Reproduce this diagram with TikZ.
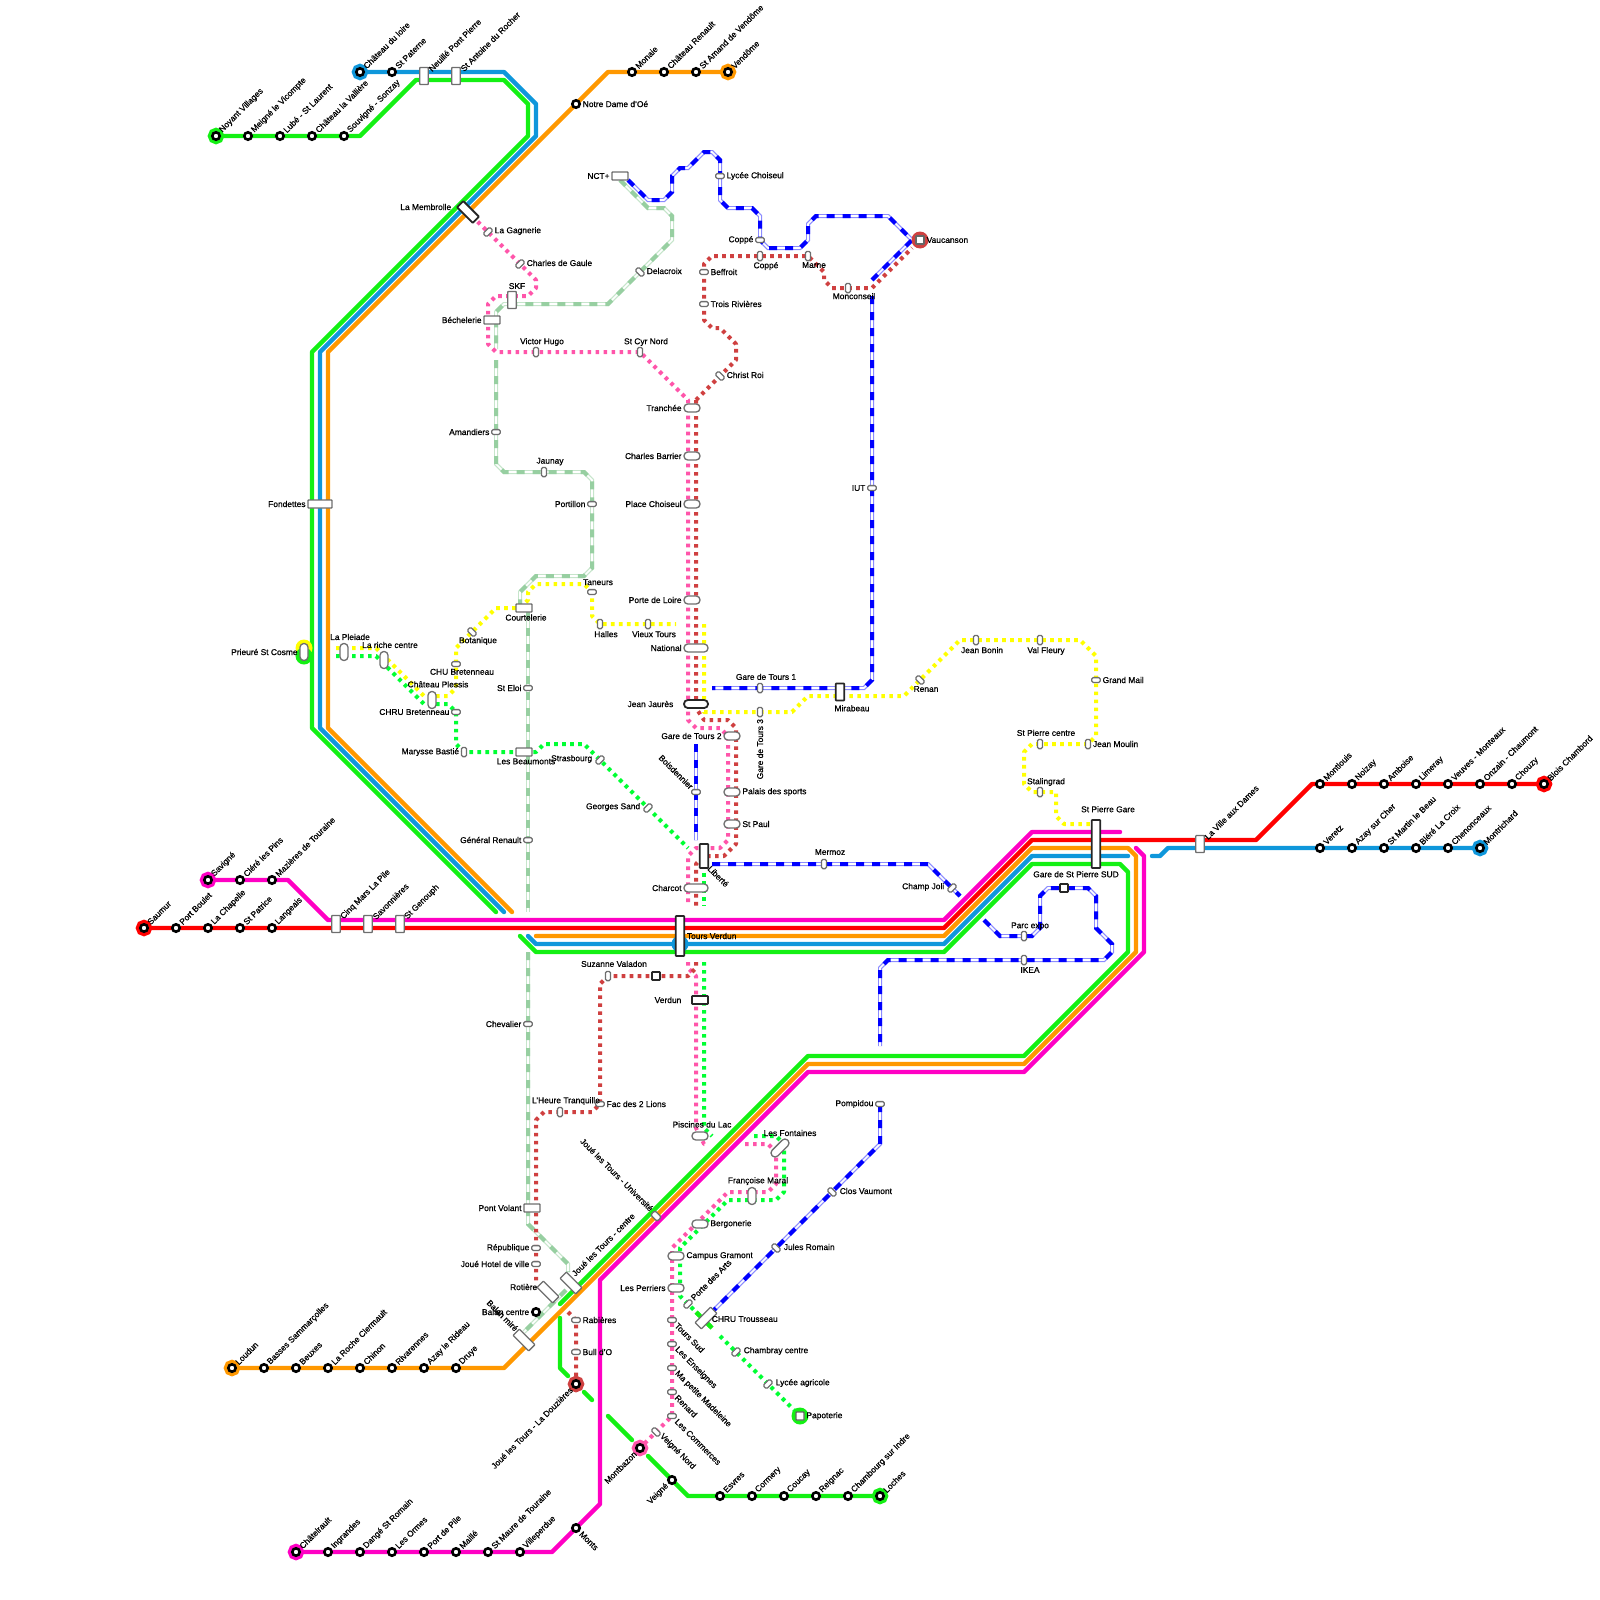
\documentclass[tikz,border=0pt]{standalone}
\usepackage{fontspec}
\setmainfont[FakeBold=0.7]{Liberation Sans}
\usetikzlibrary{positioning}
\definecolor{linegreen}{RGB}{20,240,20}
\definecolor{lineblue}{RGB}{15,151,219}
\definecolor{lineorange}{RGB}{255,152,0}
\definecolor{linered}{RGB}{255,0,0}
\definecolor{linemagenta}{RGB}{255,0,196}
\definecolor{trampink}{RGB}{255,85,170}
\definecolor{tramred}{RGB}{207,64,64}
\definecolor{tramyellow}{RGB}{255,255,0}
\definecolor{tramgreen}{RGB}{0,255,51}
\definecolor{metrosage}{RGB}{151,207,161}
\definecolor{metroblue}{RGB}{0,0,255}
\definecolor{stgray}{RGB}{110,110,110}
\begin{document}
\begin{tikzpicture}[
    x=0.5pt, y=-0.5pt,
    font=\fontsize{4.2pt}{5pt}\selectfont,
    rail/.style={line width=2.2pt, line cap=round, line join=round},
    tramdot/.style={line width=2pt, line join=round, dash pattern=on 1.8pt off 2.2pt},
    metrosagel/.style={draw=white, line width=0.8pt, preaction={draw=metrosage!55, line width=2pt}, postaction={draw=metrosage, line width=2pt, dash pattern=on 4pt off 4pt}},
    metrobluel/.style={draw=white, line width=0.8pt, preaction={draw=metroblue!45, line width=2pt}, postaction={draw=metroblue, line width=2pt, dash pattern=on 4pt off 4pt}},
    stopring/.style={circle, draw=black, fill=white, line width=1.3pt, minimum size=3.7pt, inner sep=0pt},
    terminal/.style={stopring, preaction={draw=#1, line width=4.4pt}},
    halo/.style={circle, fill=#1, minimum size=8.5pt, inner sep=0pt},
    gate/.style={rectangle, draw=stgray, fill=white, line width=0.65pt, inner sep=0pt, rounded corners=0.3pt},
    gatev/.style={gate, minimum width=4.2pt, minimum height=8.5pt},
    gateh/.style={gate, minimum width=8pt, minimum height=4pt},
    gatet/.style={gate, minimum width=4.4pt, minimum height=11pt},
    gatel/.style={gate, minimum width=12pt, minimum height=4pt},
    pill/.style={gate, rounded corners=1.9pt, minimum width=8pt, minimum height=4pt},
    pillw/.style={pill, minimum width=12pt},
    pillv/.style={pill, minimum width=4pt, minimum height=8.5pt},
    slimh/.style={gate, rounded corners=0.7pt, minimum width=4.2pt, minimum height=2.4pt},
    slimv/.style={gate, rounded corners=0.7pt, minimum width=2.5pt, minimum height=4.6pt},
    dark/.style={draw=black!85, line width=0.9pt},
    lbl/.style={inner sep=0.7pt, text=black},
    lblup/.style={lbl, rotate=45, anchor=west},
    lbldn/.style={lbl, rotate=-45, anchor=west},
    lblupend/.style={lbl, rotate=45, anchor=east},
    lbldnend/.style={lbl, rotate=-45, anchor=east}
  ]
    \useasboundingbox (0,0) rectangle (1600,1600);

    % dashed metro lines
    \draw[metrosagel] (620,180) -- (648,208) -- (664,208) -- (672,216) -- (672,240) -- (608,304) -- (504,304) -- (496,312) -- (496,349);
    \draw[metrosagel] (496,360) -- (496,464) -- (504,472) -- (584,472) -- (592,480) -- (592,568) -- (584,576) -- (536,576) -- (520,592) -- (520,604);
    \draw[metrosagel] (528,612) -- (528,912);
    \draw[metrosagel] (528,952) -- (528,1224) -- (568,1264) -- (568,1272);
    \draw[metrosagel] (566,1290) -- (524,1332);
    \draw[metrobluel] (628,180) -- (648,200) -- (664,200) -- (672,192) -- (672,176) -- (680,168) -- (688,168) -- (704,152) -- (712,152) -- (720,160) -- (720,200) -- (728,208) -- (752,208) -- (760,216) -- (760,240) -- (768,248) -- (800,248) -- (808,240) -- (808,224) -- (816,216) -- (888,216) -- (912,240) -- (872,280);
    \draw[metrobluel] (872,296) -- (872,680) -- (864,688) -- (712,688);
    \draw[metrobluel] (696,744) -- (696,840);
    \draw[metrobluel] (712,864) -- (928,864) -- (960,896);
    \draw[metrobluel] (984,920) -- (1000,936) -- (1032,936) -- (1040,928) -- (1040,896) -- (1048,888) -- (1088,888) -- (1096,896) -- (1096,928) -- (1112,944) -- (1112,952) -- (1104,960) -- (888,960) -- (880,968) -- (880,1046);
    \draw[metrobluel] (880,1104) -- (880,1144) -- (712,1312);

    % dotted tram lines
    \draw[tramdot, trampink] (472,216) -- (536,280) -- (536,288) -- (528,296) -- (496,296) -- (488,304) -- (488,344) -- (496,352) -- (640,352) -- (688,400) -- (688,712) -- (688,720) -- (696,728) -- (720,728) -- (728,736) -- (728,840) -- (720,848) -- (696,848) -- (688,856) -- (688,906);
    \draw[tramdot, trampink] (688,962) -- (688,968) -- (696,976) -- (696,1128) -- (704,1144) -- (708,1144);
    \draw[tramdot, trampink] (745,1144) -- (768,1144) -- (776,1152) -- (776,1184) -- (768,1192) -- (728,1192) -- (672,1248) -- (672,1416) -- (640,1448);
    \draw[tramdot, tramred] (696,400) -- (696,708) -- (704,720) -- (728,720) -- (736,728) -- (736,844) -- (724,856) -- (704,856) -- (696,864) -- (696,906);
    \draw[tramdot, tramred] (696,962) -- (696,968) -- (688,976) -- (608,976) -- (600,984) -- (600,1104) -- (592,1112) -- (544,1112) -- (536,1120) -- (536,1284);
    \draw[tramdot, tramred] (568,1312) -- (576,1320) -- (576,1384);
    \draw[tramdot, tramred] (696,400) -- (736,360) -- (736,344) -- (720,328) -- (712,328) -- (704,320) -- (704,264) -- (712,256) -- (808,256) -- (824,272) -- (824,280) -- (832,288) -- (872,288) -- (912,248);
    \draw[tramdot, tramyellow] (336,648) -- (376,648) -- (424,696) -- (448,696) -- (456,688) -- (456,648) -- (496,608) -- (520,608) -- (528,600) -- (528,592) -- (536,584) -- (584,584) -- (592,592) -- (592,616) -- (600,624) -- (676,624);
    \draw[tramdot, tramyellow] (704,624) -- (704,712) -- (792,712) -- (808,696) -- (904,696) -- (960,640) -- (1080,640) -- (1096,656) -- (1096,736) -- (1088,744) -- (1032,744) -- (1024,752) -- (1024,784) -- (1032,792) -- (1056,792) -- (1056,816) -- (1064,824) -- (1090,824);
    \draw[tramdot, tramgreen] (336,656) -- (376,656) -- (424,704) -- (448,704) -- (456,712) -- (456,744) -- (464,752) -- (536,752) -- (544,744) -- (584,744) -- (688,848);
    \draw[tramdot, tramgreen] (704,873) -- (704,906);
    \draw[tramdot, tramgreen] (704,962) -- (704,1128) -- (712,1136);
    \draw[tramdot, tramgreen] (754,1136) -- (776,1136) -- (784,1144) -- (784,1192) -- (776,1200) -- (728,1200) -- (680,1248) -- (680,1296) -- (712,1328);
    \draw[tramdot, tramgreen] (720,1336) -- (800,1416);

    % rail lines
    \draw[rail, linered] (144,928) -- (944,928) -- (1032,840) -- (1256,840) -- (1312,784) -- (1544,784);
    \draw[rail, linemagenta] (208,880) -- (288,880) -- (328,920) -- (944,920) -- (1032,832) -- (1120,832);
    \draw[rail, linemagenta] (1136,848) -- (1144,856) -- (1144,952) -- (1024,1072) -- (808,1072) -- (600,1280) -- (600,1504) -- (552,1552) -- (296,1552);
    \draw[rail, lineorange] (728,72) -- (608,72) -- (328,352) -- (328,728) -- (512,912);
    \draw[rail, lineorange] (536,936) -- (944,936) -- (1032,848) -- (1128,848) -- (1136,856) -- (1136,952) -- (1024,1064) -- (808,1064) -- (504,1368) -- (232,1368);
    \draw[rail, lineblue] (360,72) -- (504,72) -- (536,104) -- (536,136) -- (320,352) -- (320,728) -- (504,912);
    \draw[rail, lineblue] (528,936) -- (536,944) -- (944,944) -- (1032,856) -- (1128,856);
    \draw[rail, lineblue] (1152,856) -- (1160,856) -- (1168,848) -- (1480,848);
    \draw[rail, linegreen] (216,136) -- (360,136) -- (416,80) -- (504,80) -- (528,104) -- (528,136) -- (312,352) -- (312,728) -- (496,912);
    \draw[rail, linegreen] (520,936) -- (536,952) -- (944,952) -- (1032,864) -- (1120,864) -- (1128,872) -- (1128,952) -- (1024,1056) -- (808,1056) -- (560,1304);
    \draw[rail, linegreen] (560,1318) -- (560,1368) -- (568,1376);
    \draw[rail, linegreen] (584,1392) -- (592,1400);
    \draw[rail, linegreen] (608,1416) -- (632,1440);
    \draw[rail, linegreen] (648,1456) -- (688,1496) -- (880,1496);
    \draw[rail, linegreen, line cap=butt] (696,1312) -- (712,1328);

    % green line from Noyant
    \node[terminal=linegreen, label={[lblup]45:Noyant Villages}] (noyant) at (216,136) {};
    \node[stopring, label={[lblup]45:Meigné le Vicompte}] (meigne) at (248,136) {};
    \node[stopring, label={[lblup]45:Lubé - St Laurent}] (lube) at (280,136) {};
    \node[stopring, label={[lblup]45:Château la Vallière}] (vallieres) at (312,136) {};
    \node[stopring, label={[lblup]45:Souvigné - Sonzay}] (souvigne) at (344,136) {};

    % blue line from Chateau du loire
    \node[terminal=lineblue, label={[lblup]45:Château du loire}] (chateauloire) at (360,72) {};
    \node[stopring, label={[lblup]45:St Paterne}] (paterne) at (392,72) {};
    \node[gatev, label={[lblup]45:Neuillé Pont Pierre}] (neuille) at (424,76) {};
    \node[gatev, label={[lblup]45:St Antoine du Rocher}] (antoine) at (456,76) {};

    % orange line from Vendome
    \node[terminal=lineorange, label={[lblup]45:Vendôme}] (vendome) at (728,72) {};
    \node[stopring, label={[lblup]45:St Amand de Vendôme}] (amand) at (696,72) {};
    \node[stopring, label={[lblup]45:Château Renault}] (renault) at (664,72) {};
    \node[stopring, label={[lblup]45:Monaie}] (monaie) at (632,72) {};
    \node[stopring, label={[lbl]right:Notre Dame d'Oé}] (notredame) at (576,104) {};

    \node[gatet, dark, rotate=45] (membrolle) at (468,212) {};
    \node[lbl, anchor=east] (membrolletxt) at (453,207) {La Membrolle};
    \node[gatel, label={[lbl]left:Fondettes}] (fondettes) at (320,504) {};
    \node[halo=tramyellow] (prieureA) at (304,648) {};
    \node[halo=linegreen] (prieureB) at (304,656) {};
    \node[pillv, label={[lbl]left:Prieuré St Cosme}] (prieure) at (304,652) {};

    % pink tram, north branch
    \node[slimv, rotate=-45] (gagnerie) at (488,232) {};
    \node[lbl, anchor=west] (gagnerietxt) at (493,231) {La Gagnerie};
    \node[slimv, rotate=-45] (degaule) at (520,264) {};
    \node[lbl, anchor=west] (degauletxt) at (525,263) {Charles de Gaule};
    \node[gatev, label={[lbl, xshift=2.5pt]above:SKF}] (skf) at (512,300) {};
    \node[gateh, label={[lbl]left:Béchelerie}] (bechelerie) at (492,320) {};
    \node[slimv, label={[lbl, xshift=3pt, yshift=-0.5pt]above:Victor Hugo}] (hugo) at (536,352) {};
    \node[slimv, label={[lbl, xshift=3pt, yshift=-0.5pt]above:St Cyr Nord}] (cyrnord) at (640,352) {};

    % sage metro
    \node[gateh, label={[lbl]left:NCT+}] (nct) at (620,176) {};
    \node[slimv, rotate=45] (delacroix) at (640,272) {};
    \node[lbl, anchor=west] (delacroixtxt) at (645,271) {Delacroix};
    \node[slimh, label={[lbl]left:Amandiers}] (amandiers) at (496,432) {};
    \node[slimv, label={[lbl, xshift=3pt, yshift=-0.2pt]above:Jaunay}] (jaunay) at (544,472) {};
    \node[slimh, label={[lbl]left:Portillon}] (portillon) at (592,504) {};
    \node[gateh, label={[lbl, xshift=1pt]below:Courtelerie}] (courtelerie) at (524,608) {};
    \node[slimh, label={[lbl]left:St Eloi}] (eloi) at (528,688) {};
    \node[gateh, label={[lbl, xshift=1pt]below:Les Beaumonts}] (beaumonts) at (524,752) {};
    \node[slimh, label={[lbl]left:Général Renault}] (generalrenault) at (528,840) {};
    \node[slimh, label={[lbl]left:Chevalier}] (chevalier) at (528,1024) {};
    \node[gateh, label={[lbl]left:Pont Volant}] (pontvolant) at (532,1208) {};

    % blue metro, north
    \node[slimh, label={[lbl]right:Lycée Choiseul}] (choiseul) at (720,176) {};
    \node[slimh, label={[lbl]left:Coppé}] (coppeup) at (760,240) {};
    \node[slimh, label={[lbl]left:IUT}] (iut) at (872,488) {};
    \node[slimv, label={[lbl, xshift=3pt, yshift=0.5pt]above:Gare de Tours 1}] (garetours1) at (760,688) {};
    \node[gatev, dark, label={[lbl, xshift=6pt, yshift=-1pt]below:Mirabeau}] (mirabeau) at (840,692) {};

    % red tram, north
    \node[halo=tramred] (vaucansonhalo) at (920,240) {};
    \node[gate, dark, draw=black!60, minimum width=4pt, minimum height=4pt, label={[lbl]right:Vaucanson}] (vaucanson) at (920,240) {};
    \node[slimv, label={[lbl, xshift=3pt, yshift=0.5pt]below:Coppé}] (coppedn) at (760,256) {};
    \node[slimv, label={[lbl, xshift=3pt, yshift=0.5pt]below:Marne}] (marne) at (808,256) {};
    \node[slimv, label={[lbl, xshift=3pt, yshift=1pt]below:Monconseil}] (monconseil) at (848,288) {};
    \node[slimh, label={[lbl]right:Beffroit}] (beffroit) at (704,272) {};
    \node[slimh, label={[lbl]right:Trois Rivières}] (troisrivieres) at (704,304) {};
    \node[slimv, rotate=45] (christroi) at (720,376) {};
    \node[lbl, anchor=west] (christroitxt) at (725,375) {Christ Roi};

    % trunk
    \node[pill, label={[lbl]left:Tranchée}] (tranchee) at (692,408) {};
    \node[pill, label={[lbl]left:Charles Barrier}] (barrier) at (692,456) {};
    \node[pill, label={[lbl]left:Place Choiseul}] (placechoiseul) at (692,504) {};
    \node[pill, label={[lbl]left:Porte de Loire}] (portedeloire) at (692,600) {};
    \node[pillw, label={[lbl]left:National}] (national) at (696,648) {};
    \node[pillw, dark, label={[lbl, xshift=-4pt]left:Jean Jaurès}] (jeanjaures) at (696,704) {};
    \node[pill, label={[lbl]left:Gare de Tours 2}] (garetours2) at (732,736) {};
    \node[pill, label={[lbl]right:Palais des sports}] (palais) at (732,792) {};
    \node[pill, label={[lbl]right:St Paul}] (stpaul) at (732,824) {};
    \node[gatev, dark, minimum height=12pt] (liberte) at (704,856) {};
    \node[lbldn] (libertetxt) at (708,866) {Liberté};
    \node[pillw, label={[lbl]left:Charcot}] (charcot) at (696,888) {};
    \node[slimh, label={[lbldnend]135:Boisdennier}] (boisdenier) at (696,792) {};
    \node[slimv, label={[lbl, rotate=90, anchor=east]below:Gare de Tours 3}] (garetours3) at (760,712) {};

    % yellow tram, west
    \node[pillv, label={[lbl, xshift=3pt, yshift=0.5pt]above:La Pleiade}] (pleiade) at (344,652) {};
    \node[pillv, label={[lbl, xshift=3pt, yshift=0.5pt]above:La riche centre}] (richecentre) at (384,660) {};
    \node[pillv, label={[lbl, xshift=3pt, yshift=0.8pt]above:Château Plessis}] (plessis) at (432,700) {};
    \node[slimh, label={[lbl, xshift=3pt]below:CHU Bretenneau}] (chu) at (456,664) {};
    \node[slimh, label={[lbl]left:CHRU Bretenneau}] (chru) at (456,712) {};
    \node[slimv, rotate=45] (botanique) at (472,632) {};
    \node[lbl] (botaniquetxt) at (478,641) {Botanique};
    \node[slimv, label={[lbl]left:Marysse Bastié}] (marysse) at (464,752) {};
    \node[slimh, label={[lbl, xshift=3pt, yshift=1pt]above:Taneurs}] (taneurs) at (592,592) {};
    \node[slimv, label={[lbl, xshift=3pt]below:Halles}] (halles) at (600,624) {};
    \node[slimv, label={[lbl, xshift=3pt]below:Vieux Tours}] (vieuxtours) at (648,624) {};

    % green tram
    \node[slimv, rotate=-45] (strasbourg) at (600,760) {};
    \node[lbl, anchor=east] (strasbourgtxt) at (594,759) {Strasbourg};
    \node[slimv, rotate=-45] (georgessand) at (648,808) {};
    \node[lbl, anchor=east] (georgessandtxt) at (642,807) {Georges Sand};

    % yellow tram, east
    \node[slimv, rotate=45] (renan) at (920,680) {};
    \node[lbl] (renantxt) at (926,689) {Renan};
    \node[slimv, label={[lbl, xshift=3pt]below:Jean Bonin}] (jeanbonin) at (976,640) {};
    \node[slimv, label={[lbl, xshift=3pt]below:Val Fleury}] (valfleury) at (1040,640) {};
    \node[slimh, label={[lbl]right:Grand Mail}] (grandmail) at (1096,680) {};
    \node[slimv, label={[lbl]right:Jean Moulin}] (jeanmoulin) at (1088,744) {};
    \node[slimv, label={[lbl, xshift=3pt, yshift=0.5pt]above:St Pierre centre}] (pierrecentre) at (1040,744) {};
    \node[slimv, label={[lbl, xshift=3pt, yshift=-0.5pt]above:Stalingrad}] (stalingrad) at (1040,792) {};

    % blue metro, east
    \node[slimv, label={[lbl, xshift=3pt, yshift=1pt]above:Mermoz}] (mermoz) at (824,864) {};
    \node[slimv, rotate=-45] (champjoli) at (952,888) {};
    \node[lbl, anchor=east] (champjolitxt) at (946,887) {Champ Joli};
    \node[slimv, label={[lbl, xshift=3pt, yshift=-0.5pt]above:Parc expo}] (parcexpo) at (1024,936) {};
    \node[gate, dark, minimum width=4pt, minimum height=4pt, label={[lbl, xshift=6pt, yshift=2pt]above:Gare de St Pierre SUD}] (pierresud) at (1064,888) {};
    \node[slimv, label={[lbl, xshift=3pt]below:IKEA}] (ikea) at (1024,960) {};
    \node[slimh, label={[lbl]left:Pompidou}] (pompidou) at (880,1104) {};
    \node[slimv, rotate=45] (closvaumont) at (832,1192) {};
    \node[lbl, anchor=west] (closvaumonttxt) at (838,1191) {Clos Vaumont};
    \node[slimv, rotate=45] (julesromain) at (776,1248) {};
    \node[lbl, anchor=west] (julesromaintxt) at (782,1247) {Jules Romain};
    \node[gatet, rotate=-45] (trousseau) at (706,1318) {};
    \node[lbl, anchor=west] (trousseautxt) at (710,1319) {CHRU Trousseau};

    % south tram
    \node[slimv, label={[lbl, xshift=3pt, yshift=1pt]above:Suzanne Valadon}] (valadon) at (608,976) {};
    \node[gate, dark, minimum width=4pt, minimum height=4pt] (valadonbox) at (656,976) {};
    \node[gateh, dark, label={[lbl, xshift=-4pt]left:Verdun}] (verdun) at (700,1000) {};
    \node[slimh, label={[lbl]right:Fac des 2 Lions}] (fac) at (600,1104) {};
    \node[slimv, label={[lbl, xshift=3pt, yshift=0pt]above:L'Heure Tranquille}] (heure) at (560,1112) {};
    \node[pill, label={[lbl, xshift=1pt, yshift=1pt]above:Piscines du Lac}] (piscines) at (700,1136) {};
    \node[pill, minimum width=11pt, rotate=45] (fontaines) at (780,1148) {};
    \node[lbl] (fontainestxt) at (790,1133) {Les Fontaines};
    \node[pillv, label={[lbl, xshift=3pt]above:Françoise Maral}] (maral) at (752,1196) {};
    \node[pill, label={[lbl]right:Bergonerie}] (bergonerie) at (700,1224) {};
    \node[pill, label={[lbl]right:Campus Gramont}] (gramont) at (676,1256) {};
    \node[pill, label={[lbl]left:Les Perriers}] (perriers) at (676,1288) {};
    \node[slimv, rotate=-45] (portearts) at (688,1304) {};
    \node[lblup] (porteartstxt) at (691,1300) {Porte des Arts};
    \node[slimv, rotate=-45] (chambray) at (736,1352) {};
    \node[lbl, anchor=west] (chambraytxt) at (742,1351) {Chambray centre};
    \node[slimv, rotate=-45] (lycee) at (768,1384) {};
    \node[lbl, anchor=west] (lyceetxt) at (774,1383) {Lycée agricole};
    \node[halo=linegreen] (papoteriehalo) at (800,1416) {};
    \node[gate, draw=black!60, minimum width=4pt, minimum height=4pt, label={[lbl]right:Papoterie}] (papoterie) at (800,1416) {};
    \node[slimh, label={[lbldn]-45:Tours Sud}] (tourssud) at (672,1320) {};
    \node[slimh, label={[lbldn]-45:Les Enseignes}] (enseignes) at (672,1344) {};
    \node[slimh, label={[lbldn]-45:Ma petite Madeleine}] (madeleine) at (672,1368) {};
    \node[slimh, label={[lbldn]-45:Renard}] (renard) at (672,1392) {};
    \node[slimh, label={[lbldn]-45:Les Commerces}] (commerces) at (672,1416) {};
    \node[slimv, rotate=45] (veignenord) at (656,1432) {};
    \node[lbldn] (veignenordtxt) at (660,1434) {Veigné Nord};

    % Joue
    \node[slimv, rotate=45, minimum width=3pt] (universite) at (656,1216) {};
    \node[lbldnend] (universitetxt) at (653,1211) {Joué les Tours - Université};
    \node[gatet, rotate=45] (jouecentre) at (571,1283) {};
    \node[lblup] (jouecentretxt) at (572,1276) {Joué les Tours - centre};
    \node[gatet, rotate=45] (rotiere) at (548,1292) {};
    \node[lbl, anchor=east] (rotieretxt) at (539,1287) {Rotière};
    \node[gatet, rotate=45] (balanmire) at (524,1340) {};
    \node[lbldnend] (balanmiretxt) at (518,1331) {Balan miré};
    \node[slimh, label={[lbl]left:République}] (republique) at (536,1248) {};
    \node[slimh, label={[lbl]left:Joué Hotel de ville}] (jouehotel) at (536,1264) {};
    \node[stopring, label={[lbl]left:Balan centre}] (balancentre) at (536,1312) {};
    \node[slimh, label={[lbl]right:Rabières}] (rabieres) at (576,1320) {};
    \node[slimh, label={[lbl]right:Bull d'O}] (bulldo) at (576,1352) {};
    \node[terminal=tramred, label={[lblupend]225:Joué les Tours - La Douzières}] (douzieres) at (576,1384) {};

    % loches line
    \node[terminal=trampink, label={[lblupend]225:Montbazon}] (montbazon) at (640,1448) {};
    \node[stopring, label={[lblupend]225:Veigné}] (veigne) at (672,1480) {};
    \node[stopring, label={[lblup]45:Esvres}] (esvres) at (720,1496) {};
    \node[stopring, label={[lblup]45:Cormery}] (cormery) at (752,1496) {};
    \node[stopring, label={[lblup]45:Coucay}] (coucay) at (784,1496) {};
    \node[stopring, label={[lblup]45:Reignac}] (reignac) at (816,1496) {};
    \node[stopring, label={[lblup]45:Chambourg sur Indre}] (chambourg) at (848,1496) {};
    \node[terminal=linegreen, label={[lblup]45:Loches}] (loches) at (880,1496) {};

    % magenta line south
    \node[terminal=linemagenta, label={[lblup]45:Châtelrault}] (chatelrault) at (296,1552) {};
    \node[stopring, label={[lblup]45:Ingrandes}] (ingrandes) at (328,1552) {};
    \node[stopring, label={[lblup]45:Dangé St Romain}] (dange) at (360,1552) {};
    \node[stopring, label={[lblup]45:Les Ormes}] (ormes) at (392,1552) {};
    \node[stopring, label={[lblup]45:Port de Pile}] (portpile) at (424,1552) {};
    \node[stopring, label={[lblup]45:Maillé}] (maille) at (456,1552) {};
    \node[stopring, label={[lblup]45:St Maure de Touraine}] (stmaure) at (488,1552) {};
    \node[stopring, label={[lblup]45:Villeperdue}] (villeperdue) at (520,1552) {};
    \node[stopring, label={[lbldn]-45:Monts}] (monts) at (576,1528) {};

    % orange line south
    \node[terminal=lineorange, label={[lblup]45:Loudun}] (loudun) at (232,1368) {};
    \node[stopring, label={[lblup]45:Basses Sammarçolles}] (basses) at (264,1368) {};
    \node[stopring, label={[lblup]45:Beuxes}] (beuxes) at (296,1368) {};
    \node[stopring, label={[lblup]45:La Roche Clermault}] (laroche) at (328,1368) {};
    \node[stopring, label={[lblup]45:Chinon}] (chinon) at (360,1368) {};
    \node[stopring, label={[lblup]45:Rivarennes}] (rivarennes) at (392,1368) {};
    \node[stopring, label={[lblup]45:Azay le Rideau}] (azayrideau) at (424,1368) {};
    \node[stopring, label={[lblup]45:Druye}] (druye) at (456,1368) {};

    % west lines
    \node[terminal=linered, label={[lblup]45:Saumur}] (saumur) at (144,928) {};
    \node[stopring, label={[lblup]45:Port Boulet}] (portboulet) at (176,928) {};
    \node[stopring, label={[lblup]45:La Chapelle}] (chapelle) at (208,928) {};
    \node[stopring, label={[lblup]45:St Patrice}] (patrice) at (240,928) {};
    \node[stopring, label={[lblup]45:Langeais}] (langeais) at (272,928) {};
    \node[terminal=linemagenta, label={[lblup]45:Savigné}] (savigne) at (208,880) {};
    \node[stopring, label={[lblup]45:Cléré les Pins}] (clere) at (240,880) {};
    \node[stopring, label={[lblup]45:Mazières de Touraine}] (mazieres) at (272,880) {};
    \node[gatev, label={[lblup]45:Cinq Mars La Pile}] (cinqmars) at (336,924) {};
    \node[gatev, label={[lblup]45:Savonnières}] (savonnieres) at (368,924) {};
    \node[gatev, label={[lblup]45:St Genouph}] (genouph) at (400,924) {};

    % hubs
    \node[halo=lineblue] (verdunhalo) at (680,944) {};
    \node[gatev, dark, minimum height=20pt, label={[lbl]right:Tours Verdun}] (toursverdun) at (680,936) {};
    \node[gatev, dark, minimum height=24pt, label={[lbl, xshift=6pt, yshift=2.5pt]above:St Pierre Gare}] (pierregare) at (1096,844) {};

    % east lines
    \node[gatev, label={[lblup]45:La Ville aux Dames}] (villedames) at (1200,844) {};
    \node[stopring, label={[lblup]45:Montlouis}] (montlouis) at (1320,784) {};
    \node[stopring, label={[lblup]45:Noizay}] (noizay) at (1352,784) {};
    \node[stopring, label={[lblup]45:Amboise}] (amboise) at (1384,784) {};
    \node[stopring, label={[lblup]45:Limeray}] (limeray) at (1416,784) {};
    \node[stopring, label={[lblup]45:Veuves - Monteaux}] (veuves) at (1448,784) {};
    \node[stopring, label={[lblup]45:Onzain - Chaumont}] (onzain) at (1480,784) {};
    \node[stopring, label={[lblup]45:Chouzy}] (chouzy) at (1512,784) {};
    \node[terminal=linered, label={[lblup]45:Blois Chambord}] (blois) at (1544,784) {};
    \node[stopring, label={[lblup]45:Veretz}] (veretz) at (1320,848) {};
    \node[stopring, label={[lblup]45:Azay sur Cher}] (azaycher) at (1352,848) {};
    \node[stopring, label={[lblup]45:St Martin le Beau}] (martin) at (1384,848) {};
    \node[stopring, label={[lblup]45:Bléré La Croix}] (blere) at (1416,848) {};
    \node[stopring, label={[lblup]45:Chenonceaux}] (chenonceaux) at (1448,848) {};
    \node[terminal=lineblue, label={[lblup]45:Montrichard}] (montrichard) at (1480,848) {};

  \end{tikzpicture}
\end{document}
